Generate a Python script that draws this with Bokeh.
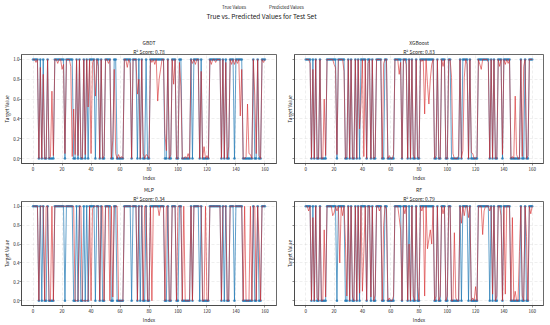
from bokeh.plotting import figure
from bokeh.layouts import column, row
from bokeh.models import Range1d, FixedTicker, Title, Legend, LegendItem, Label, PrintfTickFormatter
from bokeh.embed import file_html
from bokeh.resources import INLINE

FONT = "Noto Sans CJK SC"
SUPTITLE = "True vs. Predicted Values for Test Set"
models = ["GBDT", "XGBoost", "MLP", "RF"]
r2_scores = [0.78, 0.83, 0.34, 0.79]
x_ticks = [0, 20, 40, 60, 80, 100, 120, 140, 160]
y_ticks = [0.0, 0.2, 0.4, 0.6, 0.8, 1.0]

y_true = [
    1, 1, 1, 1, 0, 1, 0, 1, 0, 0,
    1, 0, 0, 0, 0, 1, 1, 1, 1, 1,
    1, 1, 0, 1, 1, 1, 1, 1, 0, 0,
    1, 0, 1, 0, 0, 1, 0, 1, 0, 1,
    1, 1, 1, 0, 1, 1, 0, 1, 0, 0,
    1, 1, 1, 1, 0, 0, 1, 1, 0, 0,
    0, 0, 0, 1, 1, 1, 1, 1, 0, 1,
    1, 1, 0, 1, 0, 1, 0, 0, 1, 0,
    0, 1, 1, 1, 1, 1, 1, 1, 1, 1,
    1, 0, 0, 1, 0, 0, 1, 1, 1, 0,
    0, 1, 1, 0, 0, 0, 0, 0, 0, 1,
    0, 1, 1, 1, 1, 0, 1, 0, 0, 0,
    0, 0, 1, 1, 1, 1, 1, 1, 1, 1,
    0, 1, 0, 1, 0, 0, 1, 1, 1, 0,
    1, 1, 1, 1, 1, 0, 0, 0, 0, 0,
    0, 0, 1, 0, 0, 1, 0, 0, 1, 1,
    1,
]

pred_gbdt = [
    1, 1, 0.97, 1, 0, 0.92, 0, 0.85, 0, 0,
    1, 0, 0.02, 0.68, 0.03, 1, 1, 0.96, 1, 1,
    0.9, 0.95, 0.05, 1, 1, 1, 0.93, 0.02, 0.5, 0.04,
    1, 0.03, 1, 0.02, 0, 1, 0.04, 1, 0.52, 1,
    0.05, 0.97, 1, 0.63, 1, 0.93, 0, 1, 0, 0.03,
    1, 1, 0.96, 1, 0, 0.18, 0.9, 0.05, 0, 0.04,
    0, 0.02, 0, 1, 1, 0.92, 1, 0.96, 0, 1,
    1, 1, 0.65, 0.8, 0, 1, 0.05, 0, 0.04, 0.03,
    0, 1, 0.97, 1, 0.95, 1, 0.58, 0.8, 0.9, 1,
    1, 0.25, 0.08, 1, 0, 0.04, 1, 0.75, 1, 0,
    0, 0.97, 0.73, 0, 0, 0.02, 0, 0.05, 0, 1,
    0.96, 1, 0.95, 1, 1, 0, 0.88, 0, 0.12, 0,
    0.03, 0, 1, 0.95, 1, 1, 0.97, 1, 1, 1,
    0, 1, 0, 0.97, 0, 0.12, 1, 0.95, 1, 0.95,
    1, 0.96, 1, 0.43, 0.9, 0, 0, 0.02, 0.55, 0.05,
    0.04, 0, 1, 0.64, 0.05, 1, 0.03, 0, 1, 0.97,
    1,
]

pred_xgb = [
    1, 1, 1, 0.96, 0, 0.9, 0, 1, 0, 0,
    1, 0, 0, 0.6, 0.03, 1, 1, 1, 1, 1,
    0.95, 0.92, 0.04, 1, 1, 1, 1, 0.88, 0, 0.02,
    1, 0, 1, 0, 0, 1, 0, 1, 0.3, 0.55,
    1, 0.02, 1, 0, 0.96, 1, 0, 1, 0, 0.02,
    1, 1, 1, 1, 0, 0.96, 1, 1, 0, 0.03,
    0, 0, 0.04, 1, 1, 1, 0.85, 0.97, 0, 1,
    1, 0.95, 0, 1, 0, 1, 0.04, 0, 1, 0.02,
    0, 1, 0.98, 1, 0.45, 1, 0.75, 0.55, 0.8, 0.95,
    1, 0, 0.03, 1, 0, 0, 1, 0.93, 1, 0,
    0, 1, 1, 0.82, 0.05, 0, 0, 0, 0.03, 1,
    0, 0.08, 0.82, 1, 0.95, 0, 1, 0.06, 0.05, 0,
    0, 0.02, 1, 0.95, 0.9, 1, 1, 1, 1, 0.97,
    0, 1, 0, 1, 0, 0, 1, 0.93, 1, 0.04,
    1, 0.95, 1, 0.96, 1, 0, 0.02, 0, 0.63, 0.04,
    0, 0, 1, 0.02, 0.93, 1, 0, 0.03, 1, 1,
    1,
]

pred_mlp = [
    1, 1, 1, 1, 0, 1, 1, 1, 0, 1,
    1, 0, 0, 1, 0, 1, 1, 1, 1, 1,
    1, 1, 1, 1, 1, 1, 1, 1, 1, 0,
    0, 0, 1, 1, 0, 0, 0, 0, 0, 1,
    0, 0.97, 1, 1, 1, 1, 0, 1, 1, 0,
    1, 1, 1, 0, 1, 0.04, 1, 1, 1, 0,
    0, 0, 0, 1, 1, 1, 1, 1, 1, 1,
    1, 1, 0, 1, 1, 1, 0, 1, 1, 0,
    0, 1, 0, 1, 1, 1, 1, 0.9, 1, 1,
    1, 0, 1, 1, 0, 0, 1, 1, 1, 0,
    1, 1, 1, 0, 1, 0, 0, 0, 0, 1,
    0, 1, 1, 1, 1, 1, 1, 0, 0, 1,
    0, 0, 1, 1, 1, 1, 1, 1, 1, 1,
    0, 1, 1, 1, 0, 0, 1, 1, 1, 1,
    1, 1, 1, 1, 1, 0, 1, 0, 0, 0,
    1, 0, 1, 1, 0, 1, 0.6, 0, 1, 1,
    1,
]

pred_rf = [
    1, 1, 0.95, 1, 0, 0.88, 0, 1, 0.03, 0,
    1, 0, 0, 0.75, 0.04, 1, 1, 1, 1, 0.9,
    0.93, 1, 0.95, 1, 0.4, 1, 0.9, 1, 0.63, 0.05,
    1, 0, 1, 0.04, 0, 1, 0, 1, 0.08, 1,
    0.1, 0.5, 1, 0, 1, 1, 0.04, 1, 0, 0.06,
    1, 1, 0.95, 1, 0, 0.8, 1, 0.97, 0, 0.03,
    0, 0, 0.05, 1, 1, 1, 0.88, 0.75, 0, 1,
    0.92, 1, 0, 0.6, 0, 1, 0.05, 0, 1, 0.15,
    0, 1, 0.95, 1, 0.05, 1, 0.55, 0.65, 0.75, 0.6,
    1, 0, 0.05, 1, 0, 0.05, 1, 0.92, 1, 0,
    0.05, 1, 1, 0, 0, 0.72, 0.03, 0, 0, 1,
    0.82, 1, 0.9, 1, 1, 0.88, 1, 0, 0.03, 0,
    0.15, 0, 1, 1, 1, 0.7, 0.95, 1, 1, 1,
    0.95, 1, 0.07, 1, 0, 0.05, 1, 1, 0.9, 0,
    1, 0.07, 1, 1, 1, 0, 0.88, 0, 0.1, 0,
    0, 0.52, 1, 0.05, 0, 1, 0.68, 0, 1, 0.92,
    1,
]

predictions = [pred_gbdt, pred_xgb, pred_mlp, pred_rf]
index = list(range(len(y_true)))

BLUE = "#1f77b4"
RED = "#d62728"
TXT = "#222222"


def make_panel(name, r2, pred, left_col, top_row):
    width = 283 if left_col else 267
    height = 149 if top_row else 142
    p = figure(
        width=width, height=height,
        x_range=Range1d(-8, 168), y_range=Range1d(-0.05, 1.05),
        toolbar_location=None, output_backend="svg", title=None,
        min_border_left=21 if left_col else 6,
        min_border_right=7,
        min_border_top=20 if top_row else 16,
        min_border_bottom=16,
    )
    p.add_layout(Title(text=f"R² Score: {r2:.2f}", align="center", text_font=FONT,
                       text_font_size="5px", text_font_style="normal", text_color=TXT,
                       standoff=0, text_line_height=0.9), "above")
    p.add_layout(Title(text=name, align="center", text_font=FONT,
                       text_font_size="5px", text_font_style="normal", text_color=TXT,
                       standoff=0, text_line_height=0.9), "above")
    p.line(index, y_true, line_color=BLUE, line_width=1, line_alpha=0.7)
    p.scatter(index, y_true, size=2.6, fill_color=BLUE, fill_alpha=0.8, line_color=None)
    p.line(index, pred, line_color=RED, line_width=1, line_alpha=0.6)

    p.xaxis.ticker = FixedTicker(ticks=x_ticks)
    p.yaxis.ticker = FixedTicker(ticks=y_ticks)
    p.yaxis.formatter = PrintfTickFormatter(format="%.1f")
    p.xaxis.axis_label = "Index"
    for ax in (p.xaxis, p.yaxis):
        ax.axis_label_text_font = FONT
        ax.axis_label_text_font_size = "4.8px"
        ax.axis_label_text_font_style = "normal"
        ax.axis_label_text_color = TXT
        ax.axis_label_standoff = 0
        ax.major_label_text_font = FONT
        ax.major_label_text_font_size = "4.5px"
        ax.major_label_text_color = TXT
        ax.major_label_standoff = 1
        ax.major_tick_in = 0
        ax.major_tick_out = 2
        ax.minor_tick_in = 0
        ax.minor_tick_out = 0
        ax.axis_line_color = "#444444"
        ax.axis_line_width = 0.8
        ax.major_tick_line_color = "#444444"
        ax.major_tick_line_width = 0.6
    p.yaxis.major_label_standoff = 0
    if left_col:
        p.yaxis.axis_label = "Target Value"
    else:
        p.yaxis.major_label_overrides = {t: "" for t in y_ticks}
        p.add_layout(Title(text="Target Value", align="center", text_font=FONT,
                           text_font_size="4.8px", text_font_style="normal", text_color=TXT,
                           standoff=0, text_line_height=0.9), "left")
    p.outline_line_color = "#444444"
    p.outline_line_width = 0.8
    p.outline_line_alpha = 1
    p.grid.grid_line_color = "#b0b0b0"
    p.grid.grid_line_alpha = 0.35
    p.grid.grid_line_dash = "3 2"
    p.grid.grid_line_width = 0.6
    return p


panels = []
for i, (name, r2, pred) in enumerate(zip(models, r2_scores, predictions)):
    panels.append(make_panel(name, r2, pred, left_col=(i % 2 == 0), top_row=(i < 2)))

header = figure(width=550, height=34, x_range=Range1d(0, 550), y_range=Range1d(0, 34),
                toolbar_location=None, output_backend="svg", min_border=0)
header.axis.visible = False
header.grid.visible = False
header.outline_line_color = None
d1 = header.line([], [], line_color=BLUE, line_width=1, line_alpha=0.8)
d2 = header.scatter([], [], size=3, fill_color=BLUE, line_color=None)
d3 = header.line([], [], line_color=RED, line_width=1, line_alpha=0.7)
legend = Legend(items=[LegendItem(label="True Values", renderers=[d1, d2]),
                       LegendItem(label="Predicted Values", renderers=[d3])],
                orientation="horizontal", location=(208, 24),
                label_text_font=FONT, label_text_font_size="4.5px", label_text_color=TXT,
                glyph_width=11, glyph_height=5, label_height=5, label_standoff=3,
                spacing=9, padding=0, margin=0, border_line_color=None,
                background_fill_alpha=0)
header.add_layout(legend)
header.add_layout(Label(x=261, y=19, text=SUPTITLE, text_align="center", text_baseline="middle",
                        text_font=FONT, text_font_size="6.5px", text_color=TXT))

layout = column(header, row(panels[0], panels[1], spacing=0), row(panels[2], panels[3], spacing=0),
                spacing=0)

open("out.html", "w").write(file_html(layout, INLINE))
